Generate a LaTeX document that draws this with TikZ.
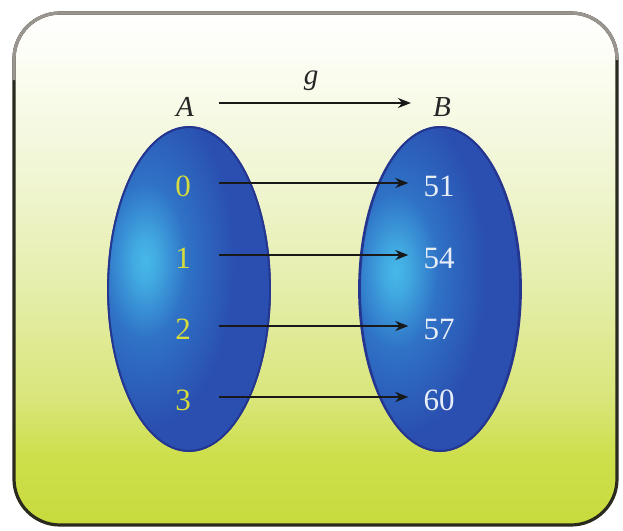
\documentclass[tikz,border=0pt]{standalone}
\usepackage{fontspec}
\setmainfont{Liberation Serif}
\usetikzlibrary{arrows.meta,shapes.geometric}
\definecolor{bgA}{HTML}{C8DB3C}
\definecolor{bgB}{HTML}{CEDF4C}
\definecolor{bgC}{HTML}{D9E579}
\definecolor{bgD}{HTML}{E4EDA6}
\definecolor{bgE}{HTML}{F0F5D2}
\definecolor{bgF}{HTML}{FAFCEE}
\definecolor{bgG}{HTML}{FFFFFF}
\definecolor{eblue}{HTML}{2A4FB0}
\definecolor{emid}{HTML}{2F72C6}
\definecolor{ehigh}{HTML}{46B8E8}
\definecolor{eedge}{HTML}{24368F}
\definecolor{yel}{HTML}{D6DC3C}
\definecolor{wht}{HTML}{E8EEF8}
\definecolor{frame}{HTML}{2A2A1E}
\definecolor{framelt}{HTML}{9A958F}
\pgfdeclareverticalshading{bgshade}{100bp}{color(0bp)=(bgA); color(25bp)=(bgA); color(31.8bp)=(bgB); color(37.2bp)=(bgC); color(47bp)=(bgD); color(58.7bp)=(bgE); color(68.5bp)=(bgF); color(75bp)=(bgG); color(100bp)=(bgG)}
\pgfdeclareradialshading{glow}{\pgfpoint{0bp}{0bp}}{color(0bp)=(ehigh); color(2bp)=(ehigh!80!emid); color(7bp)=(emid); color(15bp)=(eblue); color(50bp)=(eblue)}
\tikzset{
  setnode/.style={ellipse, minimum width=162pt, minimum height=324pt, inner sep=0pt,
    fill=eblue, draw=eedge, line width=1.8pt},
  leftnum/.style={font=\fontsize{31}{36}\selectfont, text=yel, inner sep=0pt},
  rightnum/.style={font=\fontsize{31}{36}\selectfont, text=wht, inner sep=0pt},
  setname/.style={font=\fontsize{29}{34}\selectfont\itshape, text=black!85, inner sep=0pt},
  maparrow/.style={draw=black!90, line width=2.2pt, -{Stealth[length=13pt,width=10pt]}},
}
\begin{document}
\begin{tikzpicture}[x=1pt,y=-1pt]
\useasboundingbox (0,0) rectangle (623,530);
\fill[white] (0,0) rectangle (623,530);
% background panel
\shade[shading=bgshade, rounded corners=46pt] (14,13) rectangle (617,525);
\draw[frame, line width=3.2pt, rounded corners=46pt] (14,13) rectangle (617,525);
\draw[framelt, line width=3.2pt, rounded corners=46pt] (14,80) -- (14,13) -- (617,13) -- (617,60);
% sets
\node[setnode, path picture={
  \shade[shading=glow]
    ([xshift=-44pt,yshift=28pt]path picture bounding box.center) ellipse [x radius=150pt, y radius=280pt];
  }] (SA) at (189,289) {};
\node[setnode, path picture={
  \shade[shading=glow]
    ([xshift=-44pt,yshift=18pt]path picture bounding box.center) ellipse [x radius=150pt, y radius=280pt];
  }] (SB) at (440,289) {};
\draw[eedge, line width=1.8pt] (SA.center) ellipse [x radius=81, y radius=162];
\draw[eedge, line width=1.8pt] (SB.center) ellipse [x radius=80, y radius=162];
% set names
\node[setname] (A) at (185,107) {A};
\node[setname] (B) at (442,107) {B};
\node[setname] (g) at (311,81) {g};
\draw[maparrow] ([xshift=25pt,yshift=4pt]A.east) -- ([xshift=-22pt,yshift=4pt]B.west);
% elements
\node[leftnum] (a0) at (183,186) {0};
\node[leftnum] (a1) at (183,258) {1};
\node[leftnum] (a2) at (183,329) {2};
\node[leftnum] (a3) at (183,400) {3};
\node[rightnum] (b0) at (439,186) {51};
\node[rightnum] (b1) at (439,258) {54};
\node[rightnum] (b2) at (439,329) {57};
\node[rightnum] (b3) at (439,400) {60};
\foreach \i in {0,1,2,3}{
  \draw[maparrow] ([xshift=28pt,yshift=3pt]a\i.east) -- ([xshift=-15pt,yshift=3pt]b\i.west);
}
\end{tikzpicture}
\end{document}
